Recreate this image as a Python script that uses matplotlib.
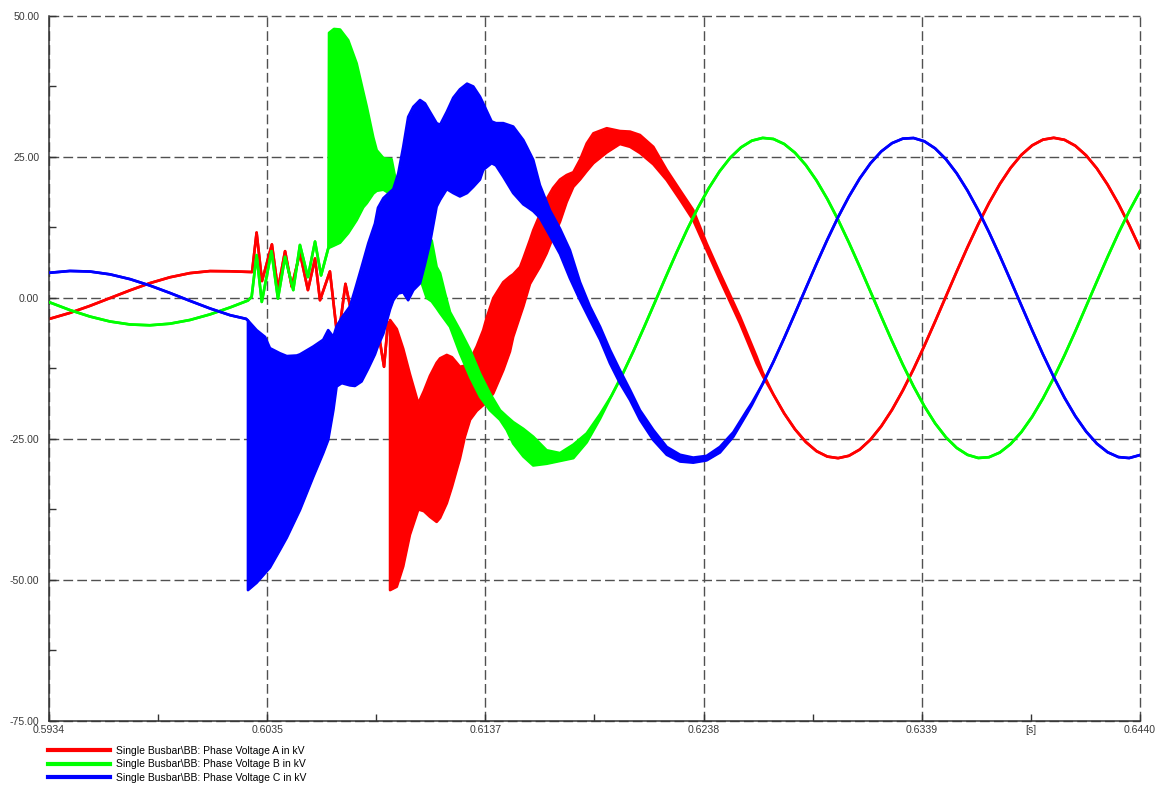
import numpy as np
import matplotlib
matplotlib.use("Agg")
import matplotlib.pyplot as plt
from matplotlib.lines import Line2D

plt.rcParams['font.family'] = ['Liberation Sans', 'DejaVu Sans']

# ---- phase A (red), kV over time [s] ----
red_line_t = [0.59340, 0.59437, 0.59530, 0.59623, 0.59716, 0.59808, 0.59901, 0.59994, 0.60087, 0.60180,
              0.60282, 0.60303, 0.60328, 0.60374, 0.60402, 0.60435, 0.60466, 0.60504, 0.60541, 0.60574,
              0.60597, 0.60643, 0.60680, 0.60715, 0.60745, 0.60782, 0.60820, 0.60857, 0.60894, 0.60912,
              0.60922]
red_line_v = [-3.73, -2.65, -1.40, -0.02, 1.36, 2.63, 3.67, 4.41, 4.77, 4.73,
              4.6, 11.6, 3.0, 9.5, 1.5, 8.3, 2.0, 8.0, 1.4, 7.0,
              -0.4, 4.7, -7.7, 2.5, -3.0, -1.0, -5.0, -3.5, -12.2, -4.5,
              -4.2]
red_band_t = [0.60922, 0.60953, 0.60983, 0.61014, 0.61053, 0.61079, 0.61107, 0.61138, 0.61154, 0.61185,
              0.61209, 0.61231, 0.61246, 0.61269, 0.61293, 0.61324, 0.61354, 0.61370, 0.61401, 0.61447,
              0.61478, 0.61493, 0.61525, 0.61540, 0.61571, 0.61586, 0.61617, 0.61648, 0.61678, 0.61710,
              0.61741, 0.61772, 0.61803, 0.61834, 0.61865, 0.61927, 0.61988, 0.62035, 0.62081, 0.62143,
              0.62205, 0.62267, 0.62328, 0.62390, 0.62452, 0.62545, 0.62622, 0.6265]
red_band_hi = [-3.9, -5.5, -9.0, -13.5, -18.7, -16.5, -13.8, -11.5, -10.7, -10.1,
               -10.5, -11.5, -12.2, -12.0, -11.0, -8.6, -5.7, -3.5, 0.0, 2.8,
               3.8, 4.2, 5.5, 7.0, 10.3, 12.0, 14.8, 17.5, 19.5, 21.0,
               21.8, 22.3, 24.5, 27.4, 29.2, 30.1, 29.6, 29.5, 28.9, 26.8,
               22.7, 19.1, 15.6, 9.7, 4.4, -3.3, -10.4, -13.2]
red_band_lo = [-51.8, -51.2, -47.6, -42.0, -37.5, -37.8, -38.8, -39.7, -39.0, -36.4,
               -33.5, -30.5, -28.5, -24.6, -21.6, -20.0, -19.0, -18.5, -16.9, -12.8,
               -9.5, -6.9, -3.2, -1.5, 2.5, 3.5, 5.5, 7.9, 10.8, 13.5,
               17.0, 19.7, 21.0, 22.5, 23.9, 25.8, 27.3, 26.8, 25.7, 23.7,
               20.9, 17.4, 13.8, 8.5, 3.2, -4.5, -11.6, -13.8]
red_tail_t = np.round(np.arange(0.6270, 0.64401, 0.0005), 4)
red_tail_v = [-17.14, -20.47, -23.28, -25.53, -27.16, -28.12, -28.40, -27.98, -26.88, -25.12,
              -22.75, -19.83, -16.41, -12.60, -8.48, -4.16, 0.27, 4.69, 9.00, 13.08,
              16.85, 20.20, 23.07, 25.37, 27.05, 28.07, 28.40, 28.04, 26.99, 25.29,
              22.97, 20.08, 16.71, 12.93, 8.83]

# ---- phase B (green) ----
green_line_t = [0.59340, 0.59437, 0.59530, 0.59623, 0.59716, 0.59808, 0.59901, 0.59994, 0.60087, 0.60180,
                0.60263, 0.60280, 0.60303, 0.60327, 0.60372, 0.60402, 0.60435, 0.60473, 0.60504, 0.60541,
                0.60574, 0.60602, 0.60636]
green_line_v = [-0.73, -2.14, -3.29, -4.17, -4.70, -4.84, -4.56, -3.90, -2.91, -1.68,
                -0.45, 0.2, 7.6, -0.7, 8.3, -0.1, 7.3, 1.4, 9.4, 3.7,
                10.0, 4.0, 8.9]
green_band_t = [0.60639, 0.60662, 0.60690, 0.60728, 0.60767, 0.60798, 0.60814, 0.60844, 0.60860, 0.60891,
                0.60929, 0.60945, 0.60991, 0.61038, 0.61061, 0.61092, 0.61115, 0.61138, 0.61154, 0.61177,
                0.61200, 0.61246, 0.61293, 0.61339, 0.61385, 0.61432, 0.61463, 0.61493, 0.61540, 0.61586,
                0.61648, 0.61710, 0.61772, 0.61834, 0.61896]
green_band_hi = [47.0, 47.7, 47.6, 45.7, 41.6, 36.5, 33.9, 28.5, 26.2, 24.8,
                 24.6, 21.5, 17.5, 13.5, 12.0, 11.0, 10.2, 5.5, 4.4, 0.8,
                 -2.5, -5.7, -9.2, -13.4, -16.9, -19.9, -21.0, -22.0, -23.2, -24.6,
                 -27.0, -27.5, -26.0, -24.0, -20.6]
green_band_lo = [8.9, 9.3, 9.8, 11.5, 13.8, 16.1, 16.8, 18.5, 19.0, 19.2,
                 18.3, 16.5, 12.0, 7.0, 3.5, 0.0, -0.6, -1.8, -2.7, -3.9,
                 -5.1, -9.8, -14.0, -17.5, -19.9, -21.6, -23.4, -25.8, -28.1, -29.7,
                 -29.4, -28.9, -28.4, -25.6, -21.4]
green_tail_t = np.round(np.arange(0.6195, 0.64401, 0.0005), 4)
green_tail_v = [-17.26, -13.54, -9.48, -5.19, -0.78, 3.65, 8.00, 12.15, 16.00, 19.45,
                22.44, 24.88, 26.71, 27.89, 28.38, 28.19, 27.30, 25.75, 23.57, 20.82,
                17.55, 13.86, 9.83, 5.56, 1.14, -3.29, -7.64, -11.81, -15.69, -19.19,
                -22.23, -24.70, -26.58, -27.81, -28.37, -28.23, -27.40, -25.90, -23.77, -21.06,
                -17.83, -14.17, -10.17, -5.92, -1.51, 2.92, 7.29, 11.48, 15.38, 18.93]

# ---- phase C (blue) ----
blue_line_t = [0.59340, 0.59437, 0.59530, 0.59623, 0.59716, 0.59808, 0.59901, 0.59994, 0.60087, 0.60180,
               0.60254, 0.60263]
blue_line_v = [4.46, 4.79, 4.69, 4.19, 3.34, 2.21, 0.89, -0.51, -1.86, -3.05,
               -3.7, -4.0]
blue_band_t = [0.60263, 0.60303, 0.60342, 0.60365, 0.60411, 0.60443, 0.60489, 0.60504, 0.60566, 0.60612,
               0.60635, 0.60659, 0.60674, 0.60698, 0.60736, 0.60759, 0.60790, 0.60821, 0.60852, 0.60866,
               0.60891, 0.60922, 0.60937, 0.60960, 0.60983, 0.61006, 0.61030, 0.61061, 0.61084, 0.61107,
               0.61138, 0.61154, 0.61185, 0.61215, 0.61246, 0.61279, 0.61308, 0.61339, 0.61354, 0.61393,
               0.61413, 0.61447, 0.61493, 0.61540, 0.61556, 0.61586, 0.61617, 0.61664, 0.61710, 0.61756,
               0.61803, 0.61849, 0.61896, 0.61942, 0.61988, 0.62035, 0.62081, 0.62143, 0.62205, 0.62267,
               0.62328, 0.62390, 0.62452, 0.62514, 0.62576, 0.6260]
blue_band_hi = [-4.0, -5.7, -6.9, -8.9, -9.8, -10.3, -10.2, -10.0, -8.6, -7.4,
                -5.7, -6.9, -5.0, -3.5, -1.5, 1.4, 5.5, 9.7, 13.2, 16.0,
                17.7, 18.8, 19.3, 22.1, 26.8, 32.1, 33.9, 35.1, 34.5, 33.0,
                31.0, 30.7, 33.0, 35.5, 37.0, 38.0, 37.5, 35.7, 34.5, 31.3,
                31.0, 31.0, 30.4, 28.0, 26.8, 24.5, 20.0, 15.5, 12.3, 8.5,
                2.8, -1.5, -5.1, -9.2, -12.8, -16.3, -19.9, -23.4, -26.4, -27.8,
                -28.3, -28.0, -26.4, -23.8, -20.0, -18.6]
blue_band_lo = [-51.8, -50.5, -48.8, -47.8, -44.7, -42.5, -38.8, -37.6, -31.7, -27.5,
                -25.2, -19.9, -15.7, -15.1, -15.5, -15.6, -14.8, -12.5, -10.0, -8.5,
                -6.3, -2.0, -0.4, 0.8, 1.0, -0.4, 1.4, 2.6, 6.0, 9.7,
                16.2, 17.4, 19.3, 18.6, 18.0, 18.6, 19.7, 21.0, 22.7, 23.9,
                23.5, 21.5, 18.6, 16.6, 16.2, 15.4, 14.2, 11.0, 7.8, 3.5,
                -0.4, -3.9, -7.4, -11.6, -15.1, -18.1, -21.6, -25.2, -27.8, -29.0,
                -29.2, -28.8, -27.4, -24.6, -20.6, -19.0]
blue_tail_t = np.round(np.arange(0.6265, 0.64401, 0.0005), 4)
blue_tail_v = [-15.23, -11.31, -7.11, -2.74, 1.69, 6.09, 10.34, 14.34, 17.97, 21.18,
               23.87, 25.98, 27.45, 28.25, 28.36, 27.78, 26.52, 24.61, 22.10, 19.04,
               15.54, 11.65, 7.47, 3.11, -1.33, -5.73, -10.00, -14.01, -17.69, -20.94,
               -23.67, -25.83, -27.35, -28.21, -28.38, -27.85]

x_major = [0.5934, 0.6035, 0.6137, 0.6238, 0.6339, 0.6440]
x_labels = ["0.5934", "0.6035", "0.6137", "0.6238", "0.6339", "0.6440"]
y_major = [-75, -50, -25, 0, 25, 50]
labels = [r"Single Busbar\BB: Phase Voltage A in kV",
          r"Single Busbar\BB: Phase Voltage B in kV",
          r"Single Busbar\BB: Phase Voltage C in kV"]
colors = ["#ff0000", "#00ff00", "#0000ff"]


def stitch(lt, lv, bt, bhi, blo, tt, tv):
    t = np.concatenate([lt, bt, tt])
    hi = np.concatenate([lv, bhi, tv])
    lo = np.concatenate([lv, blo, tv])
    return t, hi, lo


phases = [
    stitch(red_line_t, red_line_v, red_band_t, red_band_hi, red_band_lo, red_tail_t, red_tail_v),
    stitch(green_line_t, green_line_v, green_band_t, green_band_hi, green_band_lo, green_tail_t, green_tail_v),
    stitch(blue_line_t, blue_line_v, blue_band_t, blue_band_hi, blue_band_lo, blue_tail_t, blue_tail_v),
]

fig = plt.figure(figsize=(11.63, 7.87), dpi=100)
ax = fig.add_axes([0.0421, 0.0839, 0.9381, 0.8958])

# each phase fully on top of the previous one (C over B over A)
for i, ((t, hi, lo), c) in enumerate(zip(phases, colors)):
    z = 2 + i
    ax.fill_between(t, lo, hi, color=c, lw=0, zorder=z)
    ax.plot(t, hi, color=c, lw=1.9, zorder=z + 0.5)
    ax.plot(t, lo, color=c, lw=1.9, zorder=z + 0.5)

ax.set_xlim(0.5934, 0.6440)
ax.set_ylim(-75, 50)
xm = np.linspace(0.5934, 0.6440, 6)
ax.set_xticks(xm, labels=x_labels)
ax.set_xticks((xm[:-1] + xm[1:]) / 2, labels=["", "", "", "", "[s]"], minor=True)
ax.set_yticks(y_major, labels=[f"{v:.2f}" for v in y_major])
ax.set_yticks([-62.5, -37.5, -12.5, 12.5, 37.5], minor=True)

ax.set_axisbelow(True)
ax.grid(True, which="major", color="#505050", lw=1.0, linestyle=(0, (7, 3)))
for gl in ax.get_xgridlines() + ax.get_ygridlines():
    gl.set_clip_on(False)

for s in ["top", "right"]:
    ax.spines[s].set_visible(False)
for s in ["left", "bottom"]:
    ax.spines[s].set_color("#333333")
    ax.spines[s].set_linewidth(1.1)

ax.tick_params(which="both", direction="in", length=5, width=1, color="#333333",
               labelsize=7.6, labelcolor="#3a3a3a")
ax.tick_params(axis="x", which="both", pad=3)
ax.tick_params(axis="y", which="both", pad=7)

handles = [Line2D([], [], color=c, lw=3) for c in colors]
fig.legend(handles, labels, loc="upper left", bbox_to_anchor=(0.041, 0.052),
           frameon=False, fontsize=7.5, handlelength=6.0, handletextpad=0.55,
           labelspacing=0.32, borderpad=0, borderaxespad=0)

fig.savefig("out.png", dpi=100)
